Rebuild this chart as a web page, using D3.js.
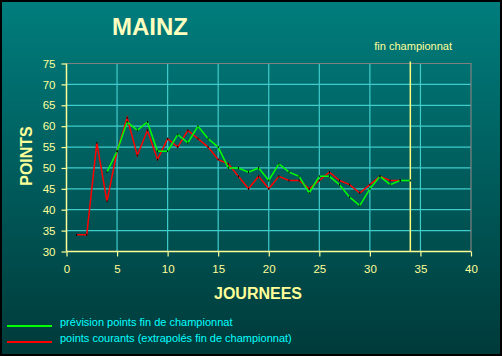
<!DOCTYPE html>
<html><head><meta charset="utf-8">
<script src="https://cdn.jsdelivr.net/npm/d3@7"></script>
<style>html,body{margin:0;padding:0;background:#000;}svg{display:block;}</style>
</head><body>
<svg id="c" width="502" height="356"></svg>
<script>
// ---- data ----
const title = "MAINZ";
const xLabel = "JOURNEES";
const yLabel = "POINTS";
const xTicks = [0, 5, 10, 15, 20, 25, 30, 35, 40];
const yTicks = [30, 35, 40, 45, 50, 55, 60, 65, 70, 75];
const endMarker = 34;
const endLabel = "fin championnat";
const courantDays = [1,2,3,4,5,6,7,8,9,10,11,12,13,14,15,16,17,18,19,20,21,22,23,24,25,26,27,28,29,30,31,32,33];
const courantVals = [34,34,56,42,54,62,53,59,52,57,55,59,57,55,52,51,48,45,48,45,48,47,47,45,47,49,47,46,44,46,48,47,47];
const previsionDays = [4,5,6,7,8,9,10,11,12,13,14,15,16,17,18,19,20,21,22,23,24,25,26,27,28,29,30,31,32,33,34];
const previsionVals = [49,54,61,59,61,54,54,58,56,60,57,55,50,50,49,50,47,51,49,48,44,48,48,46,43,41,45,48,46,47,47];
const legendLabels = ["prévision points fin de championnat", "points courants (extrapolés fin de championnat)"];
const seriesColors = ["#00ff00", "#ff0000"];

const svg = d3.select("#c");
const W = 502, H = 356;
const defs = svg.append("defs");
const g = defs.append("linearGradient").attr("id","bg").attr("x1",0).attr("y1",0).attr("x2",0).attr("y2",1);
g.append("stop").attr("offset","0%").attr("stop-color","#007d7d");
g.append("stop").attr("offset","100%").attr("stop-color","#003a3a");
svg.append("rect").attr("x",0).attr("y",0).attr("width",W).attr("height",H).attr("fill","#000");
svg.append("rect").attr("x",2).attr("y",2).attr("width",W-4).attr("height",H-4).attr("fill","url(#bg)");

const x = d3.scaleLinear().domain([0,40]).range([66.5,471]);
const y = d3.scaleLinear().domain([30,75]).range([251.5,63.5]);
const axisCol = "#ffff99", gridCol = "#40cccc", font = "Liberation Sans, Arial, sans-serif";

// grid
svg.append("g").selectAll("line.h").data(yTicks.filter(v=>v>30 && v<75)).join("line")
  .attr("x1",x(0)).attr("x2",x(40)).attr("y1",d=>y(d)).attr("y2",d=>y(d))
  .attr("stroke",gridCol).attr("stroke-width",1.2);
svg.append("g").selectAll("line.v").data(xTicks.filter(v=>v>0 && v<40)).join("line")
  .attr("x1",d=>x(d)).attr("x2",d=>x(d)).attr("y1",y(30)).attr("y2",y(75))
  .attr("stroke",gridCol).attr("stroke-width",1.2);
// top / right border
svg.append("path").attr("d",`M${x(0)},${y(75)}H${x(40)}V${y(30)}`).attr("fill","none").attr("stroke","#808080").attr("stroke-width",1.2);

// axes
const yAxis = svg.append("g").attr("transform",`translate(${x(0)},0)`)
  .call(d3.axisLeft(y).tickValues(yTicks).tickSize(5).tickPadding(6));
const xAxis = svg.append("g").attr("transform",`translate(0,${y(30)})`)
  .call(d3.axisBottom(x).tickValues(xTicks).tickSize(5).tickPadding(8));
[xAxis,yAxis].forEach(a=>{
  a.select(".domain").attr("stroke",axisCol).attr("stroke-width",1.5);
  a.selectAll(".tick line").attr("stroke",axisCol).attr("stroke-width",1.2);
  a.selectAll(".tick text").attr("fill",axisCol).attr("font-family",font).attr("font-size",11.5);
});
xAxis.select(".domain").attr("d",`M${x(0)},0H${x(40)}`);
yAxis.select(".domain").attr("d",`M0,${y(30)-y(30)+ (y(30)-0)}V${y(75)}`);
yAxis.select(".domain").attr("d",`M0,${y(30)}V${y(75)}`);

// end of championship marker
svg.append("line").attr("x1",x(endMarker)).attr("x2",x(endMarker)).attr("y1",y(75)-2).attr("y2",y(30))
  .attr("stroke","#ffff80").attr("stroke-width",1.5);
svg.append("text").attr("x",x(endMarker)-36).attr("y",50).attr("fill",axisCol)
  .attr("font-family",font).attr("font-size",11).text(endLabel);

// series
const line = d3.line().x(d=>x(d[0])).y(d=>y(d[1]));
const series = [
  d3.zip(previsionDays, previsionVals),
  d3.zip(courantDays, courantVals)
];
[1,0].forEach(i=>{
  svg.append("path").datum(series[i]).attr("d",line).attr("fill","none")
    .attr("stroke",seriesColors[i]).attr("stroke-width",1.5).attr("stroke-linejoin","miter");
});
series.forEach(s=>{
  svg.append("g").selectAll("rect").data(s).join("rect")
    .attr("x",d=>x(d[0])-0.5).attr("y",d=>y(d[1])-1).attr("width",1).attr("height",2).attr("fill","#000");
});

// titles
svg.append("text").attr("x",150).attr("y",35).attr("text-anchor","middle").attr("fill","#ffffc0")
  .attr("font-family",font).attr("font-weight","bold").attr("font-size",24).text(title);
svg.append("text").attr("x",258).attr("y",299).attr("text-anchor","middle").attr("fill","#ffff99")
  .attr("font-family",font).attr("font-weight","bold").attr("font-size",16).text(xLabel);
svg.append("text").attr("transform","translate(32,156) rotate(-90)").attr("text-anchor","middle").attr("fill","#ffff99")
  .attr("font-family",font).attr("font-weight","bold").attr("font-size",16).text(yLabel);

// legend
legendLabels.forEach((t,i)=>{
  const yy = 326 + i*16;
  svg.append("line").attr("x1",7).attr("x2",52).attr("y1",yy).attr("y2",yy).attr("stroke",seriesColors[i]).attr("stroke-width",2);
  svg.append("text").attr("x",60).attr("y",yy).attr("dy","0").attr("fill","#00ffff")
    .attr("font-family",font).attr("font-size",11).text(t);
});
</script>
</body></html>
